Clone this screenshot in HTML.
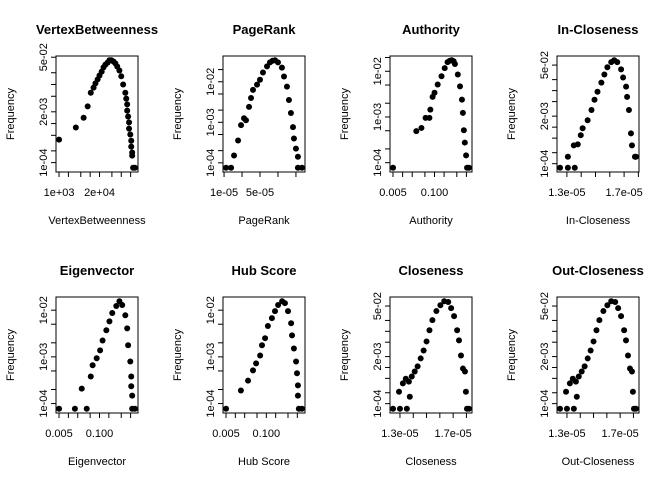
<!DOCTYPE html>
<html><head><meta charset="utf-8">
<style>
html,body{margin:0;padding:0;background:#fff;}
svg{display:block;font-family:"Liberation Sans",Arial,sans-serif;}
</style></head>
<body>
<svg id="chart" width="667" height="485" viewBox="0 0 667 485" xmlns="http://www.w3.org/2000/svg"></svg>
<script>
// ---- data (x stored as log10 for log axes, or in axis units; y = log10 frequency) ----
const vbX=[3.00,3.54,3.79,3.92,4.02,4.11,4.17,4.24,4.30,4.37,4.43,4.49,4.56,4.62,4.68,4.75,4.81,4.87,4.94,5.00,5.06,5.13,5.16,5.19,5.19,5.22,5.25,5.25,5.29,5.32,5.32,5.35,5.35,5.38,5.44];
const vbY=[-3.41,-3.10,-2.85,-2.56,-2.21,-2.08,-1.97,-1.87,-1.77,-1.67,-1.56,-1.49,-1.44,-1.38,-1.38,-1.41,-1.46,-1.54,-1.64,-1.79,-2.00,-2.21,-2.36,-2.51,-2.67,-2.82,-2.97,-3.13,-3.28,-3.44,-3.59,-3.74,-3.82,-4.13,-4.13];
const prX=[1.22,1.78,2.11,2.56,2.89,3.22,3.44,3.78,4.00,4.22,4.67,5.00,5.33,5.78,6.11,6.40,6.67,7.00,7.44,7.67,8.00,8.22,8.44,8.67,8.78,9.00,9.22,9.22,9.67];
const prY=[-4.12,-4.12,-3.82,-3.45,-3.07,-2.90,-2.95,-2.62,-2.40,-2.20,-2.07,-1.95,-1.77,-1.62,-1.52,-1.48,-1.47,-1.52,-1.65,-1.87,-2.12,-2.45,-2.77,-3.12,-3.40,-3.65,-3.85,-4.12,-4.12];
const auX=[-2.30,-1.57,-1.41,-1.28,-1.16,-1.13,-1.06,-1.00,-0.90,-0.78,-0.68,-0.59,-0.52,-0.46,-0.40,-0.36,-0.27,-0.20,-0.14,-0.11,-0.08,-0.05,-0.01,0.02,0.08];
const auY=[-4.11,-3.31,-3.24,-3.02,-3.02,-2.84,-2.56,-2.47,-2.29,-2.11,-1.93,-1.80,-1.77,-1.76,-1.78,-1.84,-2.07,-2.33,-2.62,-2.91,-3.29,-3.56,-3.84,-4.11,-4.11];
const icX=[12.52,13.07,13.55,13.07,13.48,13.76,13.97,14.10,14.45,14.72,14.93,15.14,15.41,15.62,15.83,16.10,16.31,16.52,16.79,16.93,17.14,17.21,17.34,17.48,17.55,17.76,17.83];
const icY=[-4.11,-4.11,-4.11,-3.81,-3.50,-3.47,-3.22,-3.03,-2.81,-2.53,-2.25,-2.03,-1.78,-1.56,-1.36,-1.22,-1.17,-1.22,-1.42,-1.64,-1.89,-2.17,-2.53,-3.17,-3.50,-3.81,-3.81];
const evX=[-2.30,-1.79,-1.41,-1.57,-1.28,-1.22,-1.09,-0.98,-0.90,-0.78,-0.68,-0.59,-0.46,-0.36,-0.27,-0.17,-0.11,-0.08,-0.01,0.02,0.02,0.05,0.05,0.14];
const evY=[-4.11,-4.11,-4.11,-3.68,-3.42,-3.18,-3.03,-2.86,-2.65,-2.43,-2.24,-2.06,-1.91,-1.81,-1.89,-2.11,-2.39,-2.75,-3.10,-3.42,-3.63,-3.83,-4.11,-4.11];
const hbX=[-2.30,-1.82,-1.59,-1.43,-1.33,-1.20,-1.14,-1.04,-0.95,-0.82,-0.72,-0.62,-0.49,-0.40,-0.30,-0.20,-0.17,-0.11,-0.04,-0.01,0.02,0.02,0.05,0.15];
const hbY=[-4.11,-3.72,-3.51,-3.29,-3.14,-2.97,-2.75,-2.60,-2.34,-2.17,-2.02,-1.89,-1.81,-1.85,-2.02,-2.28,-2.54,-2.82,-3.10,-3.35,-3.61,-3.83,-4.11,-4.11];
const clX=[12.48,13.00,13.52,12.93,13.22,13.44,13.67,13.74,13.89,14.11,14.33,14.56,14.78,15.00,15.22,15.44,15.74,16.04,16.33,16.63,16.85,17.07,17.30,17.44,17.59,17.74,17.89,17.96,18.04,18.19];
const clY=[-4.14,-4.14,-4.14,-3.67,-3.44,-3.31,-3.39,-3.81,-3.25,-3.11,-2.97,-2.75,-2.53,-2.28,-1.97,-1.69,-1.44,-1.28,-1.17,-1.19,-1.36,-1.58,-1.97,-2.25,-2.67,-3.03,-3.11,-3.67,-4.14,-4.14];
const ocX=[12.48,13.00,13.52,12.93,13.22,13.44,13.67,13.74,13.89,14.11,14.33,14.56,14.78,15.00,15.22,15.44,15.74,16.04,16.33,16.63,16.85,17.07,17.30,17.44,17.59,17.74,17.89,17.96,18.04,18.19];
const ocY=[-4.14,-4.14,-4.14,-3.67,-3.44,-3.31,-3.39,-3.81,-3.25,-3.11,-2.97,-2.75,-2.53,-2.28,-1.97,-1.69,-1.44,-1.28,-1.17,-1.19,-1.36,-1.58,-1.97,-2.25,-2.67,-3.03,-3.11,-3.67,-4.14,-4.14];

const titles=["VertexBetweenness","PageRank","Authority","In-Closeness","Eigenvector","Hub Score","Closeness","Out-Closeness"];
const xTickValsLog125=[0.001,0.002,0.005,0.01,0.02,0.05,0.1,0.2,0.5,1,1000,2000,5000,10000,20000,50000,100000,200000];
const xTickValsPR=[1,3,5,7,9];
const xTickValsCl=[12,13,14,15,16,17,18];
const yTickVals=[1e-4,2e-4,5e-4,1e-3,2e-3,5e-3,1e-2,2e-2,5e-2,1e-1];
const yLabels125=["1e-04","2e-03","5e-02"];
const yLabelsDec=["1e-04","1e-03","1e-02"];

const panelSpecs=[
 {xs:vbX,ys:vbY,log:true,tx:xTickValsLog125,xl:{"1000":"1e+03","20000":"2e+04"},yl:yLabels125},
 {xs:prX,ys:prY,log:false,tx:xTickValsPR,xl:{"1":"1e-05","5":"5e-05"},yl:yLabelsDec},
 {xs:auX,ys:auY,log:true,tx:xTickValsLog125,xl:{"0.005":"0.005","0.1":"0.100"},yl:yLabelsDec},
 {xs:icX,ys:icY,log:false,tx:xTickValsCl,xl:{"13":"1.3e-05","17":"1.7e-05"},yl:yLabels125},
 {xs:evX,ys:evY,log:true,tx:xTickValsLog125,xl:{"0.005":"0.005","0.1":"0.100"},yl:yLabelsDec},
 {xs:hbX,ys:hbY,log:true,tx:xTickValsLog125,xl:{"0.005":"0.005","0.1":"0.100"},yl:yLabelsDec},
 {xs:clX,ys:clY,log:false,tx:xTickValsCl,xl:{"13":"1.3e-05","17":"1.7e-05"},yl:yLabels125},
 {xs:ocX,ys:ocY,log:false,tx:xTickValsCl,xl:{"13":"1.3e-05","17":"1.7e-05"},yl:yLabels125}
];

const NS="http://www.w3.org/2000/svg";
const svg=document.getElementById('chart');
function mk(tag,attrs,parent){const e=document.createElementNS(NS,tag);for(const k in attrs)e.setAttribute(k,attrs[k]);(parent||svg).appendChild(e);return e;}
function fmtLabel(v){return v.toExponential(0).replace(/e([+-])(\d)$/,'e$10$2');}

panelSpecs.forEach((p,i)=>{
  const c=i%4,r=Math.floor(i/4);
  const L=56+167*c,T=56+241*r,W=82,H=116,B=T+H,R=L+W;
  const slug=titles[i].toLowerCase().replace(/[^a-z]+/g,'-');
  const g=mk('g',{});
  
  
  const xmn0=Math.min(...p.xs),xmx0=Math.max(...p.xs),ymn0=Math.min(...p.ys),ymx0=Math.max(...p.ys);
  const xmn=xmn0-0.04*(xmx0-xmn0),xmx=xmx0+0.04*(xmx0-xmn0);
  const ymn=ymn0-0.04*(ymx0-ymn0),ymx=ymx0+0.04*(ymx0-ymn0);
  const xS=v=>L+(v-xmn)/(xmx-xmn)*W;
  const yS=v=>B-(v-ymn)/(ymx-ymn)*H;
  const t=mk('text',{x:L+W/2,y:T-22,'text-anchor':'middle','font-size':'13','font-weight':'bold',fill:'#000'},g);
  t.textContent=titles[i];
  
  
  const xt=mk('text',{x:L+W/2,y:B+52,'text-anchor':'middle','font-size':'11',fill:'#000'},g);
  xt.textContent=titles[i];
  
  
  const yt=mk('text',{x:0,y:0,'text-anchor':'middle','font-size':'11',fill:'#000'},g);
  yt.textContent="Frequency";
  
  
  yt.setAttribute('transform',`translate(${L-42},${T+H/2}) rotate(-90)`);
  p.tx.forEach(tv=>{
    const dv=p.log?Math.log10(tv):tv;
    if(dv<xmn||dv>xmx)return;
    const x=xS(dv);
    const tk=mk('line',{x1:x,y1:B,x2:x,y2:B+5,stroke:'#000','stroke-width':1},g);
    
    
    const key=String(tv);
    if(p.xl[key]){
      const tl=mk('text',{x:x,y:B+24,'text-anchor':'middle','font-size':'11',fill:'#000'},g);
      tl.textContent=p.xl[key];
      
      
    }
  });
  yTickVals.forEach(tv=>{
    const dv=Math.log10(tv);
    if(dv<ymn||dv>ymx)return;
    const y=yS(dv);
    const tk=mk('line',{x1:L-5,y1:y,x2:L,y2:y,stroke:'#000','stroke-width':1},g);
    
    
    const lab=fmtLabel(tv);
    if(p.yl.indexOf(lab)>=0){
      const tl=mk('text',{x:0,y:0,transform:`translate(${L-9},${y}) rotate(-90)`,'text-anchor':'middle','font-size':'11',fill:'#000'},g);
      tl.textContent=lab;
      
      
    }
  });
  const bx=mk('rect',{x:L,y:T,width:W,height:H,fill:'none',stroke:'#000','stroke-width':1},g);
  
  
  p.xs.forEach((xv,k)=>{
    const pt=mk('circle',{cx:xS(xv),cy:yS(p.ys[k]),r:3.0,fill:'#000'},g);
    
    
  });
});
</script>
</body></html>
